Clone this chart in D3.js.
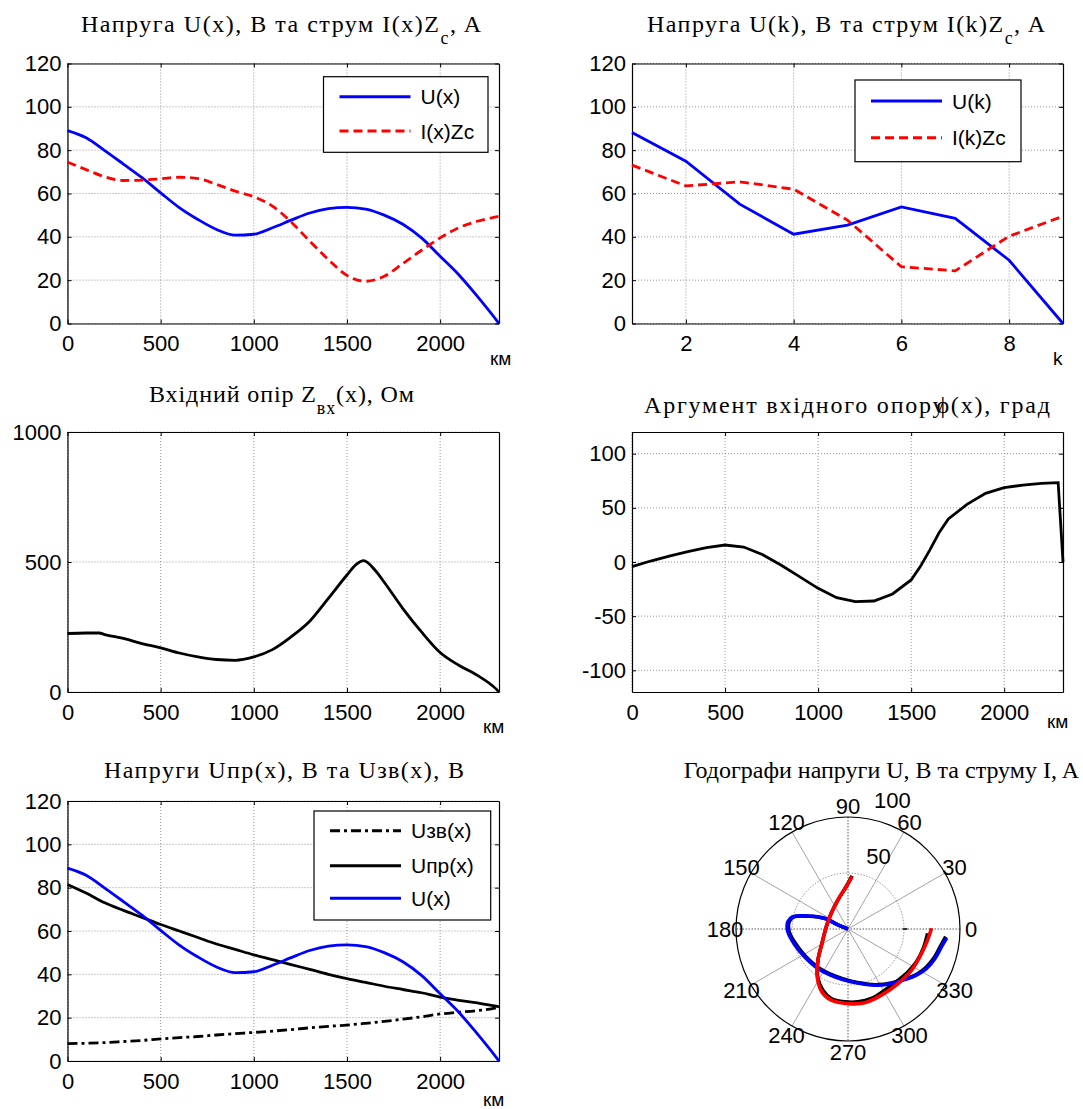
<!DOCTYPE html>
<html>
<head>
<meta charset="utf-8">
<script src="https://cdn.jsdelivr.net/npm/d3@7"></script>
<style>
  body { margin: 0; background: #fff; }
  svg { display: block; }
  .title { font-family: "Liberation Serif", "Times New Roman", serif; font-size: 24px; fill: #000; }
  .lbl { font-family: "Liberation Sans", Arial, sans-serif; fill: #000; }
</style>
</head>
<body>
<svg id="chart" width="1083" height="1109"></svg>
<script>
// distance along the line, km
const xKm = [0, 100, 200, 300, 400, 500, 600, 700, 800, 900, 1000, 1100, 1200,
  1300, 1400, 1500, 1600, 1700, 1800, 1900, 2000, 2100, 2200, 2300, 2316];
const uX = [89, 85.7, 79.8, 73.6, 67.3, 60.3, 53.5, 48, 43.4, 40.8, 41.2, 44.2, 47.7,
  51, 53, 53.6, 52.8, 50, 45.8, 39.5, 31, 22.5, 12.5, 1.8, 0];
const iZcX = [74.5, 71, 67.7, 66, 66.2, 66.8, 67.5, 66.9, 64.2, 61.1, 58.5, 54.2, 46.9,
  38, 29.5, 22.2, 19.5, 21.8, 27.7, 33.8, 39.5, 44.2, 47.2, 49.2, 49.5];
const uPrX = [81.5, 77.5, 73, 69.5, 66.3, 63, 60, 57, 54, 51.5, 49, 46.8, 44.5,
  42.3, 40, 38, 36.3, 34.5, 33, 31.5, 29.5, 28, 26.8, 25.3, 25];
const uZvX = [8, 8.2, 8.5, 9, 9.5, 10.2, 10.8, 11.3, 12, 12.6, 13.2, 13.8, 14.5,
  15.3, 16, 16.6, 17.4, 18.3, 19.3, 20.4, 21.7, 22.5, 23.3, 24.5, 25];

const zinKm = [0, 100, 170, 200, 300, 400, 500, 600, 700, 800, 900, 1000, 1100, 1200,
  1300, 1400, 1500, 1550, 1590, 1650, 1700, 1800, 1900, 2000, 2100, 2200, 2300, 2316];
const zinOhm = [225, 227, 227, 221, 206, 186, 170, 150, 135, 125, 122, 135, 163, 212,
  272, 360, 450, 491, 505, 469, 422, 321, 231, 152, 103, 64, 12, 0];

const phiKm = [0, 100, 200, 300, 400, 500, 600, 700, 800, 900, 1000, 1100, 1200, 1300,
  1400, 1500, 1550, 1600, 1650, 1700, 1800, 1900, 2000, 2100, 2200, 2290, 2316];
const phiDeg = [-4.3, 0.9, 5.5, 9.5, 13.2, 15.7, 13.8, 7, -2.8, -13.5, -24.3, -32.9, -36.6, -36,
  -29.5, -16.6, -4, 11, 27, 39.7, 53.2, 63.4, 68.6, 71, 72.6, 73.3, 0];

// discrete model, k = 1..9
const kIdx = [1, 2, 3, 4, 5, 6, 7, 8, 9];
const uK = [88.2, 74.9, 55.1, 41.2, 45.4, 53.8, 48.5, 29.2, 0];
const iZcK = [73.1, 63.5, 65.4, 62, 47.7, 26.2, 24.3, 40.3, 49.5];

// hodographs: angle (deg, ccw from 0) and magnitude
const uHodAng = [-5.1, -10.7, -18.7, -26.7, -34, -41.6, -51.4, -61.8, -73.1, -86.4, -105.6,
  -127.3, -147.4, -165.1, -177.5, -187, -192.6, -198, -204.6, -202];
const uHodMag = [88.5, 85, 82, 78.5, 73.8, 67.9, 62.2, 56.9, 51.5, 47.3, 44.3,
  44.3, 46, 50, 53.8, 54.1, 50.5, 37.7, 23, 9.6];
const iHodAng = [0.5, -7.9, -18.4, -32.9, -47.4, -63.2, -77.3, -90, -103.2, -112.5, -122.8,
  -134, -151, -186.1, -223.2, -251, -267.7, -274.4];
const iHodMag = [74.6, 71.7, 69.2, 67.6, 66.1, 66.2, 67.6, 66.6, 65.3, 60.8, 50.8,
  38.6, 26.6, 19.5, 20.5, 27.5, 38, 47];
const uHod2Ang = [-4.5, -10.5, -18.5, -26.5, -34, -41.6, -51.4, -61.8, -73.1, -86.4, -105.6,
  -127.3, -147.4, -165.1, -177.5, -187, -192.6, -198, -204.6, -202];
const uHod2Mag = [87.5, 84, 81, 77.5, 73, 67.2, 61.6, 56.4, 51, 46.8, 43.6,
  43.4, 45, 48.8, 52.6, 52.9, 49.4, 37, 22.5, 9.4];
const iHod2Ang = [-3.1, -14.5, -25.6, -35.4, -45.6, -59, -71.4, -82.2, -92.6, -103.5, -112.3,
  -121.3, -134, -151, -186, -223, -251, -267.7, -274.4];
const iHod2Mag = [71.2, 69.4, 67.8, 65.9, 64, 63.7, 65.5, 65.7, 65.1, 63.9, 59,
  51.7, 38.6, 26.6, 19.5, 20.5, 27.5, 38, 47.5];

const svg = d3.select('#chart');
const FONT = '"Liberation Sans", Arial, sans-serif';

const COL = [{ left: 67.5, w: 431.5 }, { left: 632, w: 431 }];
const ROW = [63.5, 432, 801];
const PH = 260;

function zip(xs, ys) { return xs.map((x, i) => [x, ys[i]]); }

function cartesian(o) {
  const g = svg.append('g').attr('transform', `translate(${o.left},${o.top})`);
  const x = d3.scaleLinear().domain(o.xDomain).range([0, o.w]);
  const y = d3.scaleLinear().domain(o.yDomain).range([PH, 0]);

  // dotted grid
  const grid = g.append('g').attr('stroke', '#7a7a7a').attr('stroke-width', 0.8)
    .attr('stroke-dasharray', '1,2');
  grid.selectAll('.gx').data(o.xTicks).join('line')
    .attr('x1', d => x(d)).attr('x2', d => x(d)).attr('y1', 0).attr('y2', PH);
  grid.selectAll('.gy').data(o.yTicks).join('line')
    .attr('x1', 0).attr('x2', o.w).attr('y1', d => y(d)).attr('y2', d => y(d));

  const fmt = d => String(d);
  const style = a => a.attr('font-size', 22).attr('font-family', FONT);
  g.append('g').attr('transform', `translate(0,${PH})`)
    .call(d3.axisBottom(x).tickValues(o.xTicks).tickFormat(fmt)
      .tickSizeInner(-4).tickSizeOuter(0).tickPadding(12))
    .call(style);
  g.append('g')
    .call(d3.axisLeft(y).tickValues(o.yTicks).tickFormat(fmt)
      .tickSizeInner(-4).tickSizeOuter(0).tickPadding(6))
    .call(style);
  g.append('g')
    .call(d3.axisTop(x).tickValues(o.xTicks).tickSizeInner(-4).tickSizeOuter(0).tickFormat(''));
  g.append('g').attr('transform', `translate(${o.w},0)`)
    .call(d3.axisRight(y).tickValues(o.yTicks).tickSizeInner(-4).tickSizeOuter(0).tickFormat(''));
  g.selectAll('.domain').attr('stroke', '#000').attr('stroke-width', 1.2);
  g.selectAll('.tick line').attr('stroke', '#000');

  const line = d3.line().x(d => x(d[0])).y(d => y(d[1]));
  const plot = (pts, color, dash, curve) => g.append('path')
    .datum(pts)
    .attr('fill', 'none')
    .attr('stroke', color)
    .attr('stroke-width', 2.8)
    .attr('stroke-dasharray', dash || null)
    .attr('d', line.curve(curve || d3.curveMonotoneX));
  return { g, x, y, plot };
}

// titles are stretched to the width they take in the original figure
function title(x0, width, base, parts, size) {
  const t = svg.append('text').attr('class', 'title')
    .attr('x', x0).attr('y', base);
  if (width) t.attr('textLength', width).attr('lengthAdjust', 'spacing');
  else t.attr('text-anchor', 'end');
  if (size) t.attr('font-size', size);
  parts.forEach(p => {
    const s = t.append('tspan').text(p.t);
    if (p.sub) s.attr('font-size', 18).attr('dy', p.sub);
    if (p.up) s.attr('dy', p.up);
    if (p.dx) s.attr('dx', p.dx);
  });
}

function xLabel(x, base, txt) {
  svg.append('text').attr('class', 'lbl').attr('font-size', 19)
    .attr('x', x).attr('y', base).text(txt);
}

function legend(x0, y0, w, h, items) {
  const g = svg.append('g');
  g.append('rect').attr('x', x0).attr('y', y0).attr('width', w).attr('height', h)
    .attr('fill', '#fff').attr('stroke', '#000').attr('stroke-width', 1.2);
  items.forEach(it => {
    g.append('line').attr('x1', x0 + 16).attr('x2', x0 + 87).attr('y1', it.y).attr('y2', it.y)
      .attr('stroke', it.color).attr('stroke-width', 3)
      .attr('stroke-dasharray', it.dash || null);
    g.append('text').attr('class', 'lbl').attr('font-size', 21)
      .attr('x', x0 + 97).attr('y', it.y).attr('dy', '0.36em').text(it.label);
  });
}

const kmTicks = [0, 500, 1000, 1500, 2000];
const L = 2316;

// ---- panel 1: U(x), I(x)Zc
{
  const p = cartesian({ left: COL[0].left, top: ROW[0], w: COL[0].w,
    xDomain: [0, L], yDomain: [0, 120], xTicks: kmTicks, yTicks: d3.range(0, 121, 20) });
  p.plot(zip(xKm, uX), '#0000ff');
  p.plot(zip(xKm, iZcX), '#ff0000', '9,5');
  title(81, 400, 32, [{ t: 'Напруга U(x), В та струм I(x)Z' }, { t: 'c', sub: 12 }, { t: ', A', up: -12 }]);
  xLabel(490, 365, 'км');
  legend(323.5, 76.7, 164.5, 75.6, [
    { label: 'U(x)', color: '#0000ff', y: 96.7 },
    { label: 'I(x)Zc', color: '#ff0000', dash: '9,5', y: 131 }]);
}

// ---- panel 2: U(k), I(k)Zc
{
  const p = cartesian({ left: COL[1].left, top: ROW[0], w: COL[1].w,
    xDomain: [1, 9], yDomain: [0, 120], xTicks: [2, 4, 6, 8], yTicks: d3.range(0, 121, 20) });
  p.plot(zip(kIdx, uK), '#0000ff', null, d3.curveLinear);
  p.plot(zip(kIdx, iZcK), '#ff0000', '9,5', d3.curveLinear);
  title(647, 398, 32, [{ t: 'Напруга U(k), В та струм I(k)Z' }, { t: 'c', sub: 12 }, { t: ', A', up: -12 }]);
  xLabel(1053, 365, 'k');
  legend(855, 80, 166, 81.7, [
    { label: 'U(k)', color: '#0000ff', y: 101 },
    { label: 'I(k)Zc', color: '#ff0000', dash: '9,5', y: 137.7 }]);
}

// ---- panel 3: input impedance
{
  const p = cartesian({ left: COL[0].left, top: ROW[1], w: COL[0].w,
    xDomain: [0, L], yDomain: [0, 1000], xTicks: kmTicks, yTicks: [0, 500, 1000] });
  p.plot(zip(zinKm, zinOhm), '#000');
  title(149, 265, 402, [{ t: 'Вхідний опір Z' }, { t: 'вх', sub: 12 }, { t: '(x), Ом', up: -12 }]);
  xLabel(483, 733, 'км');
}

// ---- panel 4: argument of input impedance
{
  const p = cartesian({ left: COL[1].left, top: ROW[1], w: COL[1].w,
    xDomain: [0, L], yDomain: [-120, 120], xTicks: kmTicks, yTicks: [-100, -50, 0, 50, 100] });
  p.plot(zip(phiKm, phiDeg), '#000', null, d3.curveLinear);
  title(644, 406, 413, [{ t: 'Аргумент вхідного опору' }, { t: 'ϕ(x), град', dx: -10 }]);
  xLabel(1047, 728, 'км');
}

// ---- panel 5: forward / backward waves
{
  const p = cartesian({ left: COL[0].left, top: ROW[2], w: COL[0].w,
    xDomain: [0, L], yDomain: [0, 120], xTicks: kmTicks, yTicks: d3.range(0, 121, 20) });
  p.plot(zip(xKm, uZvX), '#000', '10,4,3,4');
  p.plot(zip(xKm, uPrX), '#000');
  p.plot(zip(xKm, uX), '#0000ff');
  title(104, 360, 778, [{ t: 'Напруги Uпр(x), В та Uзв(x), В' }]);
  xLabel(483, 1106, 'км');
  legend(314, 811, 176.7, 109, [
    { label: 'Uзв(x)', color: '#000', dash: '10,4,3,4', y: 830.7 },
    { label: 'Uпр(x)', color: '#000', y: 865.7 },
    { label: 'U(x)', color: '#0000ff', y: 898.3 }]);
}

// ---- panel 6: hodographs (polar)
{
  const cx = 848, cy = 929, R = 112;
  const r = d3.scaleLinear().domain([0, 100]).range([0, R]);
  const g = svg.append('g').attr('transform', `translate(${cx},${cy})`);
  const rad = a => a * Math.PI / 180;

  d3.range(0, 180, 30).forEach(a => {
    const axisLine = a % 90 === 0;
    g.append('line')
      .attr('x1', r(100) * Math.cos(rad(a))).attr('y1', -r(100) * Math.sin(rad(a)))
      .attr('x2', -r(100) * Math.cos(rad(a))).attr('y2', r(100) * Math.sin(rad(a)))
      .attr('stroke', axisLine ? '#444' : '#999').attr('stroke-width', 0.9)
      .attr('stroke-dasharray', axisLine ? '1.5,1.5' : null);
  });
  g.append('circle').attr('r', r(50)).attr('fill', 'none')
    .attr('stroke', '#888').attr('stroke-width', 0.9).attr('stroke-dasharray', '1.5,1.5');
  g.append('circle').attr('r', r(100)).attr('fill', 'none')
    .attr('stroke', '#000').attr('stroke-width', 1.2);
  g.append('line').attr('x1', r(49)).attr('x2', r(53)).attr('y1', 0).attr('y2', 0)
    .attr('stroke', '#000').attr('stroke-width', 1.5);

  d3.range(0, 360, 30).forEach(a => {
    g.append('text').attr('class', 'lbl').attr('font-size', 22)
      .attr('x', 123 * Math.cos(rad(a))).attr('y', -123 * Math.sin(rad(a)))
      .attr('text-anchor', 'middle').attr('dy', '0.36em').text(a);
  });
  [50, 100].forEach(v => {
    g.append('text').attr('class', 'lbl').attr('font-size', 22)
      .attr('x', r(v) * Math.cos(rad(82)) + 10.5).attr('y', -r(v) * Math.sin(rad(82)) - 10)
      .text(v);
  });

  const radial = d3.lineRadial()
    .angle(d => rad(90 - d[0])).radius(d => r(d[1]))
    .curve(d3.curveCatmullRom);
  const hod = (ang, mag, color, toCenter) => {
    const pts = zip(ang, mag);
    if (toCenter) pts.push([ang[ang.length - 1], 0]);
    g.append('path').datum(pts).attr('fill', 'none').attr('stroke', color)
      .attr('stroke-width', 3.6).attr('stroke-linejoin', 'round').attr('d', radial);
  };
  hod(uHod2Ang, uHod2Mag, '#000', true);
  hod(iHod2Ang, iHod2Mag, '#000', false);
  hod(uHodAng, uHodMag, '#0000ff', true);
  hod(iHodAng, iHodMag, '#ff0000', false);

  title(1079, null, 778, [{ t: 'Годографи напруги U, В та струму I, A' }], 20);
}
</script>
</body>
</html>
